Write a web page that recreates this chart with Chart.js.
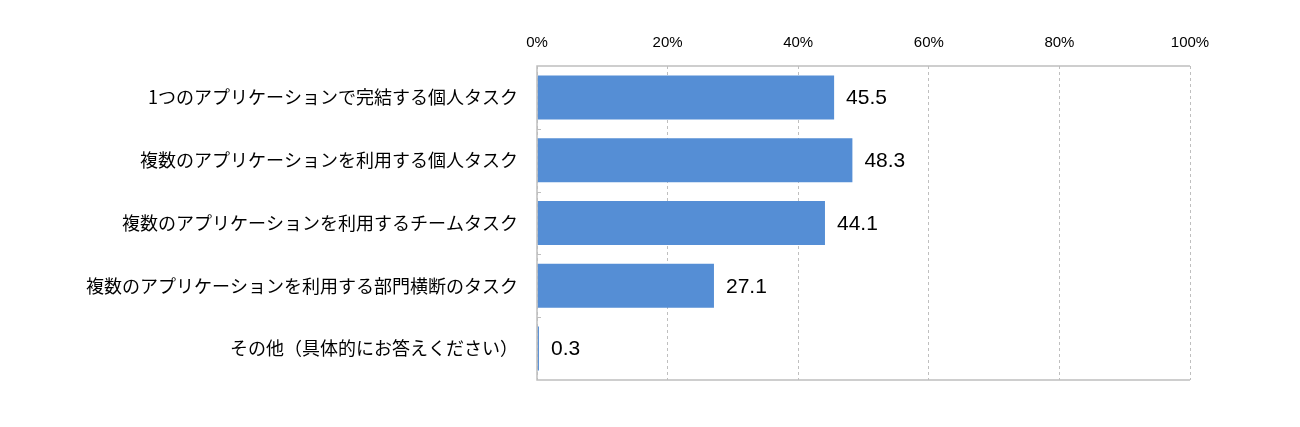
<!DOCTYPE html>
<html>
<head>
<meta charset="utf-8">
<script src="https://cdn.jsdelivr.net/npm/chart.js@4.4.0/dist/chart.umd.min.js"></script>
<style>
html,body{margin:0;padding:0;background:#fff;}
#wrap{width:1300px;height:427px;position:relative;}
</style>
</head>
<body>
<div id="wrap"><canvas id="c" width="1300" height="427"></canvas></div>
<script>
const categories = [
  "1つのアプリケーションで完結する個人タスク",
  "複数のアプリケーションを利用する個人タスク",
  "複数のアプリケーションを利用するチームタスク",
  "複数のアプリケーションを利用する部門横断のタスク",
  "その他（具体的にお答えください）"
];
const values = [45.5, 48.3, 44.1, 27.1, 0.3];
const tickValues = [0, 20, 40, 60, 80, 100];

const valueLabels = {
  id: 'valueLabels',
  afterDatasetsDraw(chart) {
    const ctx = chart.ctx;
    const meta = chart.getDatasetMeta(0);
    ctx.save();
    ctx.font = '21px "Liberation Sans", Arial, sans-serif';
    ctx.fillStyle = '#000';
    ctx.textAlign = 'left';
    ctx.textBaseline = 'middle';
    meta.data.forEach((bar, i) => {
      ctx.fillText(values[i].toFixed(1), bar.x + 12, bar.y + 1);
    });
    ctx.restore();
  }
};

const frame = {
  id: 'frame',
  afterDatasetsDraw(chart) {
    const {ctx, chartArea: a} = chart;
    ctx.save();
    ctx.strokeStyle = '#bfbfbf';
    ctx.lineWidth = 1.5;
    ctx.beginPath();
    ctx.moveTo(a.right, a.top);
    ctx.lineTo(a.left, a.top);
    ctx.lineTo(a.left, a.bottom);
    ctx.lineTo(a.right, a.bottom);
    ctx.stroke();
    const n = categories.length;
    const h = (a.bottom - a.top) / n;
    ctx.lineWidth = 1;
    for (let i = 1; i < n; i++) {
      const y = Math.round(a.top + h * i) + 0.5;
      ctx.beginPath();
      ctx.moveTo(a.left, y);
      ctx.lineTo(a.left + 4, y);
      ctx.stroke();
    }
    ctx.restore();
  }
};

new Chart(document.getElementById('c'), {
  type: 'bar',
  data: {
    labels: categories,
    datasets: [{
      data: values,
      backgroundColor: '#558ed5',
      borderWidth: 0,
      barPercentage: 0.7,
      categoryPercentage: 1.0
    }]
  },
  options: {
    indexAxis: 'y',
    responsive: false,
    animation: false,
    devicePixelRatio: 1,
    layout: { padding: { left: 0, right: 110, top: 0, bottom: 47 } },
    plugins: { legend: { display: false }, tooltip: { enabled: false } },
    scales: {
      x: {
        position: 'top',
        min: 0, max: 100,
        afterBuildTicks(axis) { axis.ticks = tickValues.map(v => ({ value: v })); },
        afterFit(axis) { axis.height = 66; },
        border: { display: false, dash: [3, 3] },
        grid: {
          color: '#bfbfbf',
          lineWidth: 1,
          drawTicks: false
        },
        ticks: {
          padding: 14,
          color: '#000',
          font: { family: '"Liberation Sans", Arial, sans-serif', size: 15 },
          callback: v => v + '%'
        }
      },
      y: {
        afterFit(axis) { axis.width = 537; },
        border: { display: false },
        grid: { display: false },
        ticks: {
          padding: 11,
          color: '#000',
          font: { family: '"Noto Sans CJK JP", sans-serif', size: 18 }
        }
      }
    }
  },
  plugins: [valueLabels, frame]
});
</script>
</body>
</html>
